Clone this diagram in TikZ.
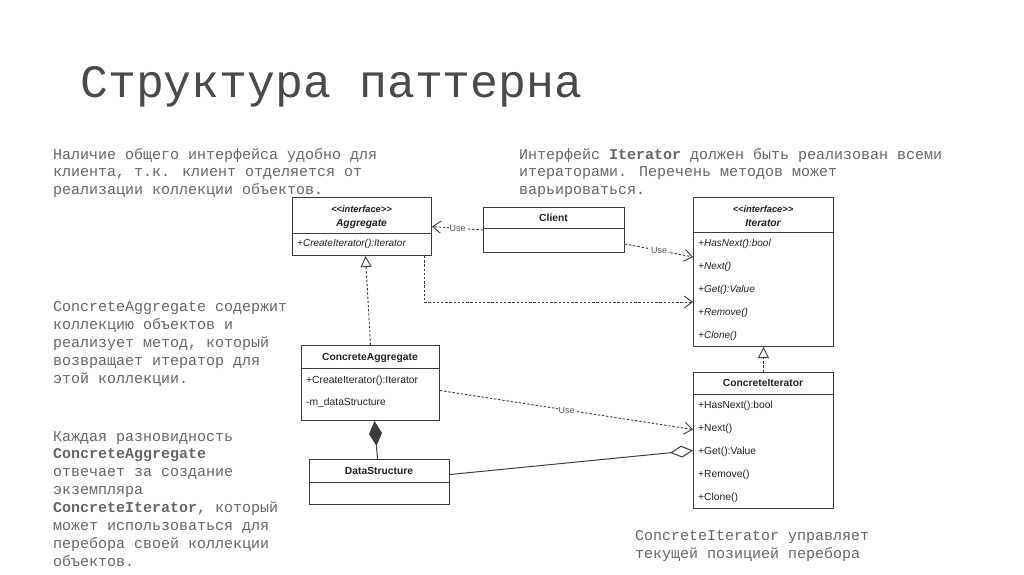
\documentclass[tikz,border=0pt]{standalone}
\usepackage{fontspec}
\setmainfont{Liberation Sans}
\newfontfamily\mono{Liberation Mono}
\usepackage{tikz}
\usetikzlibrary{arrows.meta,positioning,calc,shapes.geometric}
\definecolor{Edge}{HTML}{3C3C3C}
\definecolor{Ink}{HTML}{222222}
\definecolor{Muted}{HTML}{555555}
\definecolor{Note}{HTML}{666666}
\definecolor{Head}{HTML}{4A4A4A}

\begin{document}
\begin{tikzpicture}[x=1pt,y=-1pt,font=\fontsize{10.3}{12}\selectfont,
  box/.style={draw=Edge,line width=1pt,fill=white,anchor=north west,inner sep=0},
  member/.style={anchor=base west,inner sep=0,text=Ink},
  cname/.style={anchor=base,inner sep=0,text=Ink,font=\fontsize{10.3}{12}\selectfont\bfseries},
  stereo/.style={anchor=base,inner sep=0,text=Ink,font=\fontsize{9.3}{11}\selectfont\bfseries\itshape},
  note/.style={anchor=base west,inner sep=0,text=Note,font=\mono\fontsize{15}{18}\selectfont},
  use/.style={draw=Edge,line width=0.9pt,dash pattern=on 2.4pt off 1.8pt,-{Straight Barb[length=8pt,width=12pt]}},
  uselbl/.style={fill=white,inner sep=1pt,text=Muted,font=\fontsize{9}{10}\selectfont},
  realize/.style={draw=Edge,line width=0.9pt,dash pattern=on 2.4pt off 1.8pt,-{Triangle[open,length=11pt,width=11pt]}},
  compose/.style={draw=Edge,line width=1pt,{Diamond[length=25pt,width=13pt]}-},
  aggreg/.style={draw=Edge,line width=1pt,-{Diamond[open,length=23pt,width=12pt]}}]
\fill[white] (0,0) rectangle (1024,574);
\useasboundingbox (0,0) rectangle (1024,574);

% title
\node[anchor=base west,inner sep=0,text=Head,font=\mono\fontsize{46.5}{50}\selectfont] (title) at (80,97) {Структура паттерна};

% notes
\foreach \i/\t in {0/{Наличие общего интерфейса удобно для},1/{клиента, т.к. клиент отделяется от},2/{реализации коллекции объектов.}}
  \node[note] (noteA-\i) at (53,159+17.6*\i) {\t};
\foreach \i/\t in {0/{Интерфейс \textbf{Iterator} должен быть реализован всеми},1/{итераторами. Перечень методов может},2/{варьироваться.}}
  \node[note] (noteB-\i) at (519,159+17.6*\i) {\t};
\foreach \i/\t in {0/{ConcreteAggregate содержит},1/{коллекцию объектов и},2/{реализует метод, который},3/{возвращает итератор для},4/{этой коллекции.}}
  \node[note] (noteC-\i) at (53,311+18*\i) {\t};
\foreach \i/\t in {0/{Каждая разновидность},1/{\textbf{ConcreteAggregate}},2/{отвечает за создание},3/{экземпляра},4/{\textbf{ConcreteIterator}, который},5/{может использоваться для},6/{перебора своей коллекции},7/{объектов.}}
  \node[note] (noteD-\i) at (53,441+17.9*\i) {\t};
\foreach \i/\t in {0/{ConcreteIterator управляет},1/{текущей позицией перебора}}
  \node[note] (noteE-\i) at (635,540+18*\i) {\t};

% classes
\node[box,minimum width=139,minimum height=58] (agg) at (292,197) {};
\draw[Edge,line width=1pt] ($(agg.north west)+(0,36)$) -- ($(agg.north east)+(0,36)$);
\node[stereo] (agg-st) at (361.5,212.5) {<\kern0pt<interface>\kern0pt>};
\node[cname,font=\fontsize{10.3}{12}\selectfont\bfseries\itshape] (agg-name) at (361.5,226) {Aggregate};
\node[member,font=\itshape] (agg-m0) at (297,246.7) {+CreateIterator():Iterator};

\node[box,minimum width=141,minimum height=45] (client) at (483,207) {};
\draw[Edge,line width=1pt] ($(client.north west)+(0,21)$) -- ($(client.north east)+(0,21)$);
\node[cname] (client-name) at (553.5,221.7) {Client};

\node[box,minimum width=140,minimum height=149] (iter) at (693,197) {};
\draw[Edge,line width=1pt] ($(iter.north west)+(0,35)$) -- ($(iter.north east)+(0,35)$);
\node[stereo] (iter-st) at (763,212.5) {<\kern0pt<interface>\kern0pt>};
\node[cname,font=\fontsize{10.3}{12}\selectfont\bfseries\itshape] (iter-name) at (763,226) {Iterator};
\foreach \i/\m in {0/{+HasNext():bool},1/{+Next()},2/{+Get():Value},3/{+Remove()},4/{+Clone()}}
  \node[member,font=\itshape] (iter-m\i) at (698,246.7+23*\i) {\m};

\node[box,minimum width=138,minimum height=75] (ca) at (301,345) {};
\draw[Edge,line width=1pt] ($(ca.north west)+(0,23)$) -- ($(ca.north east)+(0,23)$);
\node[cname] (ca-name) at (370,360.7) {ConcreteAggregate};
\node[member] (ca-m0) at (306,383.7) {+CreateIterator():Iterator};
\node[member] (ca-m1) at (306,405.7) {-m\_dataStructure};

\node[box,minimum width=140,minimum height=136] (ci) at (693,372) {};
\draw[Edge,line width=1pt] ($(ci.north west)+(0,22)$) -- ($(ci.north east)+(0,22)$);
\node[cname] (ci-name) at (763,386.7) {ConcreteIterator};
\foreach \i/\m in {0/{+HasNext():bool},1/{+Next()},2/{+Get():Value},3/{+Remove()},4/{+Clone()}}
  \node[member] (ci-m\i) at (698,408.7+23*\i) {\m};

\node[box,minimum width=140,minimum height=45] (ds) at (309,459) {};
\draw[Edge,line width=1pt] ($(ds.north west)+(0,23)$) -- ($(ds.north east)+(0,23)$);
\node[cname] (ds-name) at (379,474.7) {DataStructure};

% relations
\draw[use] (client.west) -- node[uselbl] {Use} (agg.east);
\draw[use] ($(client.south east)+(0,-9)$) -- node[uselbl] {Use} ($(iter.north west)+(0,60)$);
\draw[use] ($(agg.south east)+(-8,0)$) |- ($(iter.north west)+(0,105)$);
\draw[realize] (ca.north) -- ($(agg.south)+(3.5,0)$);
\draw[realize] (ci.north) -- (iter.south);
\draw[use] ($(ca.east)+(0,7.5)$) -- node[uselbl] {Use} ($(ci.west)+(0,-11)$);
\draw[compose] ($(ca.south)+(4,0)$) -- ($(ds.north)+(-2,0)$);
\draw[aggreg] ($(ds.east)+(0,-7.5)$) -- ($(ci.west)+(0,10)$);
\end{tikzpicture}
\end{document}
